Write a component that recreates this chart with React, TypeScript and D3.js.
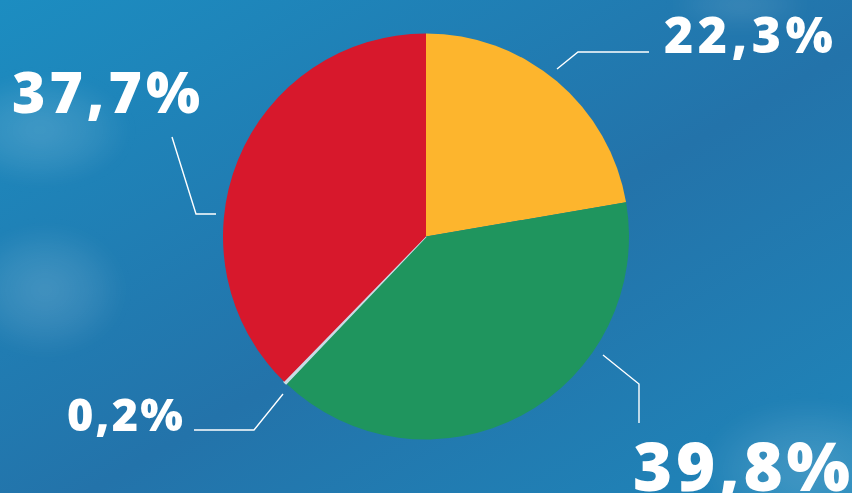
import React from "react";
import * as d3 from "d3";

const categories = ["A", "B", "C", "D"];
const values = [22.3, 39.8, 0.2, 37.7];
const labels = ["22,3%", "39,8%", "0,2%", "37,7%"];
const colors = ["#FDB52D", "#1F955E", "#C9DCE6", "#D7182C"];

const W = 852;
const H = 493;
const cx = 426;
const cy = 236.5;
const R = 203;

// label layout: text anchor position, font size, width, leader polyline
const labelLayout = [
  { x: 664, y: 53, size: 50, w: 169, line: [[557, 69], [578, 52], [649, 52]] },
  { x: 633, y: 491, size: 67, w: 217, line: [[603, 355], [639, 384], [639, 423]] },
  { x: 67, y: 431, size: 45, w: 116, line: [[283, 394], [254, 430], [194, 430]] },
  { x: 12, y: 113, size: 57, w: 188, line: [[172, 137], [196, 214], [216, 214]] },
];

export default function App() {
  const pie = d3.pie<number>().sort(null).value((d) => d);
  const arcs = pie(values);
  const arc = d3.arc<d3.PieArcDatum<number>>().innerRadius(0).outerRadius(R);
  const line = d3.line();

  return (
    <div style={{ position: "fixed", left: 0, top: 0, width: W, height: H }}>
      <svg width={W} height={H} style={{ display: "block" }}>
        <defs>
          <linearGradient id="bg" x1="0" y1="0" x2="1" y2="1">
            <stop offset="0" stopColor="#1C8DC1" />
            <stop offset="0.55" stopColor="#2373AA" />
            <stop offset="1" stopColor="#1F86BA" />
          </linearGradient>
          <radialGradient id="cloud">
            <stop offset="0" stopColor="#ffffff" stopOpacity="0.16" />
            <stop offset="0.6" stopColor="#ffffff" stopOpacity="0.08" />
            <stop offset="1" stopColor="#ffffff" stopOpacity="0" />
          </radialGradient>
          <filter id="blur" x="-50%" y="-50%" width="200%" height="200%">
            <feGaussianBlur stdDeviation="8" />
          </filter>
        </defs>
        <rect width={W} height={H} fill="url(#bg)" />
        <g filter="url(#blur)">
          <ellipse cx={40} cy={130} rx={90} ry={55} fill="url(#cloud)" />
          <ellipse cx={45} cy={290} rx={80} ry={65} fill="url(#cloud)" />
          <ellipse cx={810} cy={470} rx={110} ry={70} fill="url(#cloud)" />
          <ellipse cx={740} cy={5} rx={70} ry={25} fill="url(#cloud)" opacity={0.7} />
        </g>
        <g transform={`translate(${cx},${cy})`}>
          {arcs.map((a, i) => (
            <path
              key={categories[i]}
              d={arc(a) || ""}
              fill={colors[i]}
              stroke={values[i] < 1 ? colors[i] : "none"}
              strokeWidth={values[i] < 1 ? 1.6 : 0}
            />
          ))}
        </g>
        {labelLayout.map((l, i) => (
          <g key={categories[i]}>
            <path
              d={line(l.line as [number, number][]) || ""}
              fill="none"
              stroke="#ffffff"
              strokeWidth={1.4}
            />
            <text
              x={l.x}
              y={l.y}
              fontFamily="'Open Sans', sans-serif"
              fontWeight={800}
              fontSize={l.size}
              fill="#ffffff"
              textLength={l.w}
              lengthAdjust="spacing"
            >
              {labels[i]}
            </text>
          </g>
        ))}
      </svg>
    </div>
  );
}
